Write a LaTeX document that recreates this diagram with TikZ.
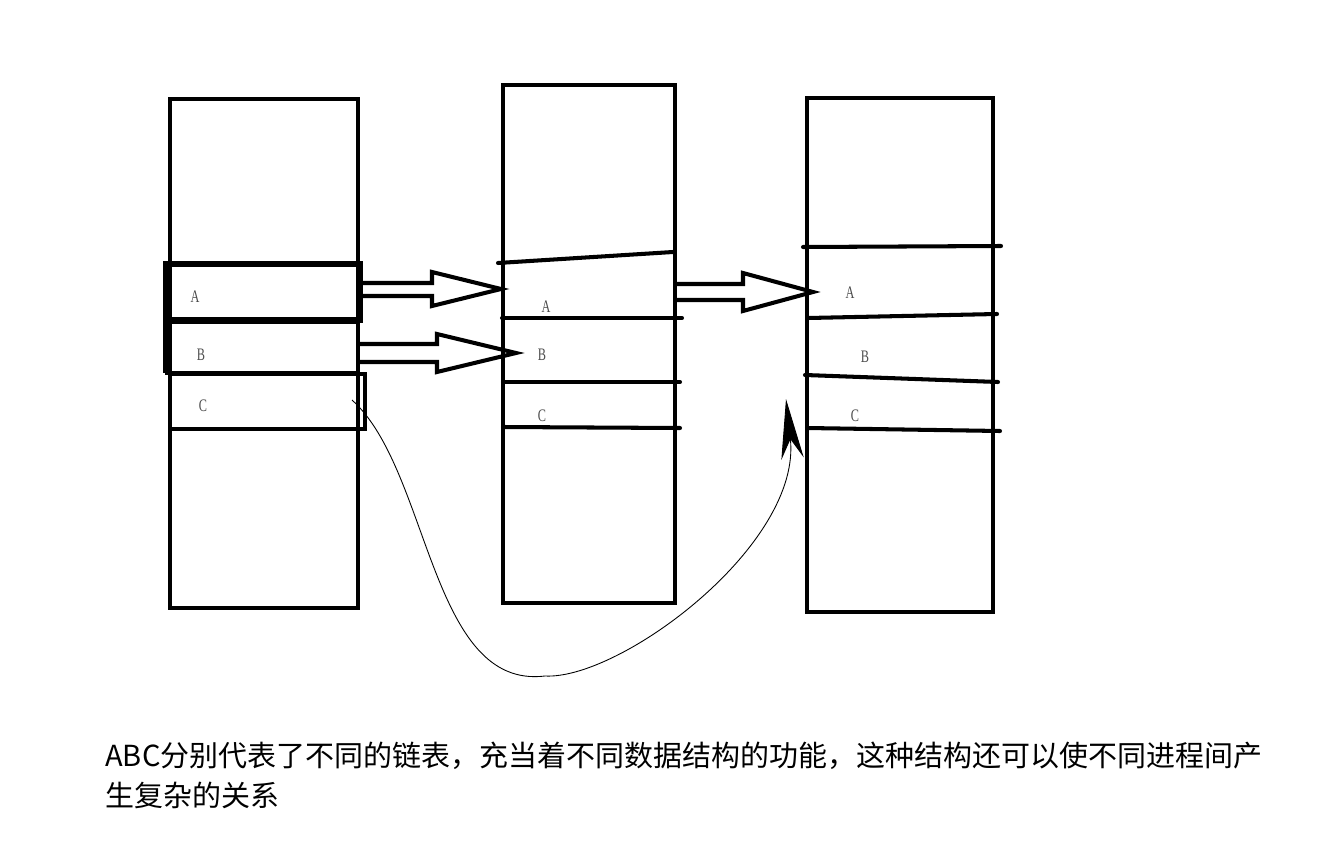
\documentclass[tikz,border=0pt]{standalone}
\usepackage{fontspec}
\setmainfont{Liberation Serif}
\newfontfamily\cjk{Noto Sans CJK SC}
\newfontfamily\slotfont[FakeStretch=0.7]{Liberation Serif}
\usetikzlibrary{arrows.meta, positioning}
\tikzset{
  memframe/.style={line width=2.3pt},
  memline/.style={line width=2.3pt, line cap=round},
  slotlabel/.style={font=\slotfont\fontsize{10}{12}\selectfont, text=black!70, inner sep=0pt},
  blockarrow/.style={line width=2.3pt, line join=miter},
  linkcurve/.style={line width=0.5pt, -{Stealth[length=1.2cm, width=0.45cm]}},
  notetext/.style={font=\cjk\fontsize{16.5}{22.7}\selectfont, align=left,
    anchor=north west, inner sep=0pt}
}

\begin{document}
\begin{tikzpicture}[x=0.02cm, y=-0.02cm]
  \useasboundingbox (0,0) rectangle (1344,865);

  % Process memory frames
  \draw[memframe] (170,99) rectangle (358,608);
  \draw[memframe] (503,85) rectangle (675,603);
  \draw[memframe] (807,98) rectangle (993,612);

  % Slots of the first process
  \draw[line width=3.4pt] (166,264) rectangle (360,320);
  \draw[memframe] (167,322) rectangle (358,373);
  \draw[line width=3.4pt] (166,322) -- (166,373);
  \draw[memframe] (170,374) rectangle (365,429);

  % Slots of the second process
  \draw[memline] (498,263) -- (673,252);
  \draw[memline] (502,318) -- (682,318);
  \draw[memline] (503,382) -- (680,382);
  \draw[memline] (503,427) -- (680,428);

  % Slots of the third process
  \draw[memline] (803,247) -- (1001,246);
  \draw[memline] (808,318) -- (997,314);
  \draw[memline] (805,375) -- (998,382);
  \draw[memline] (807,428) -- (1000,431);

  % Slot labels
  \node[slotlabel] (a1) at (195,297) {A};
  \node[slotlabel] (b1) at (201,355) {B};
  \node[slotlabel] (c1) at (203,406) {C};
  \node[slotlabel] (a2) at (546,307) {A};
  \node[slotlabel] (b2) at (542,355) {B};
  \node[slotlabel] (c2) at (542,416) {C};
  \node[slotlabel] (a3) at (850,293) {A};
  \node[slotlabel] (b3) at (865,357) {B};
  \node[slotlabel] (c3) at (855,416) {C};

  % Block arrows between slots
  \draw[blockarrow] (361,283) -- (432,283) -- (432,272) -- (501,289)
    -- (432,306) -- (432,296) -- (361,296);
  \draw[blockarrow] (358,344) -- (437,344) -- (437,334) -- (516,353)
    -- (437,372) -- (437,362) -- (358,362);
  \draw[blockarrow] (675,284) -- (743,284) -- (743,273) -- (813,292)
    -- (743,311) -- (743,300) -- (675,300);

  % Link from C to C
  \coordinate (ctail) at (352,400);
  \coordinate (chead) at (786,399);
  \draw[linkcurve] (ctail) .. controls (430,470) and (430,690) .. (545,676)
    .. controls (620,680) and (802,545) .. (chead);

  % Note
  \node[notetext] (note) at (105,742)
    {ABC分别代表了不同的链表，充当着不同数据结构的功能，这种结构还可以使不同进程间产\\生复杂的关系};
\end{tikzpicture}
\end{document}
